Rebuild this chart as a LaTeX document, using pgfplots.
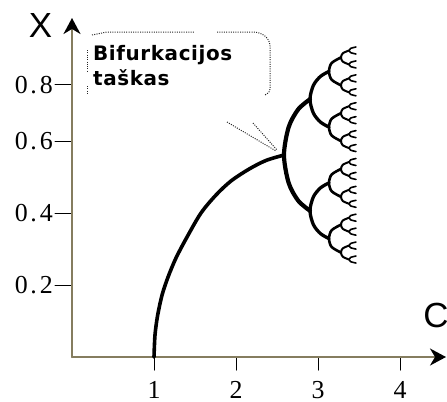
\documentclass[border=0pt]{standalone}
\usepackage{pgfplots}
\pgfplotsset{compat=1.18}
\usepackage{fontspec}
\setmainfont{Liberation Serif}
\newfontfamily\labelfont{Liberation Sans}
\newfontfamily\notefont[LetterSpace=3]{DejaVu Sans}
\usetikzlibrary{arrows.meta}
\definecolor{axisolive}{RGB}{133,125,95}
\tikzset{note/.style={draw=black!85, line width=1bp, dash pattern=on 1bp off 1.3bp}}
\newcommand{\dec}[2]{#1\kern2.5bp.\kern3bp#2}

\begin{document}
\begin{tikzpicture}
\begin{axis}[
  scale only axis,
  width=374bp, height=339bp,
  xmin=0, xmax=4.561, ymin=0, ymax=0.9417,
  axis lines=left,
  axis line style={draw=axisolive, line width=2bp,
    -{Stealth[black, length=16bp, width=17bp, inset=5bp]}},
  xtick={1,2,3,4},
  ytick={0.2,0.4,0.6,0.756},
  yticklabels={\dec{0}{2},\dec{0}{4},\dec{0}{6},\dec{0}{8}},
  tick align=outside,
  major tick length=17bp,
  xtick style={/pgfplots/major tick length=13bp},
  tick style={black, line width=1bp},
  /pgf/number format/assume math mode=true,
  xticklabel style={font=\fontsize{26}{26}\selectfont, inner sep=0pt, yshift=-7bp},
  yticklabel style={font=\fontsize{26}{26}\selectfont, inner sep=0pt, xshift=-2bp},
  xlabel={C}, ylabel={X},
  xlabel style={font=\labelfont\fontsize{35}{35}\selectfont,
    at={(axis description cs:0.973,0.121)}, anchor=center},
  ylabel style={font=\labelfont\fontsize{35}{35}\selectfont, rotate=-90,
    at={(axis description cs:-0.0842,0.979)}, anchor=center},
  clip=false,
  unbounded coords=jump,
  line cap=round, line join=round,
]
% stable branch of fixed points
\addplot[black, line width=3.6bp, smooth] coordinates {
  (1.000,0) (1.012,0.061) (1.043,0.114) (1.098,0.172) (1.171,0.222)
  (1.268,0.275) (1.402,0.333) (1.573,0.400) (1.756,0.450) (1.939,0.489)
  (2.159,0.522) (2.366,0.546) (2.585,0.561)};
% first period doubling
\addplot[black, line width=4.2bp, smooth] coordinates {
  (2.902,0.7160) (2.759,0.6881) (2.642,0.6385) (2.585,0.5611)
  (2.642,0.4837) (2.759,0.4341) (2.902,0.4063)};
% period 2 -> 4
\addplot[black, line width=3.3bp, smooth] coordinates {
  (3.134,0.7934) (3.030,0.7795) (2.944,0.7547) (2.902,0.7160)
  (2.944,0.6773) (3.030,0.6525) (3.134,0.6386)
  (nan,nan)
  (3.134,0.4837) (3.030,0.4698) (2.944,0.4450) (2.902,0.4063)
  (2.944,0.3676) (3.030,0.3428) (3.134,0.3289)};
% period 4 -> 8
\addplot[black, line width=2.6bp, smooth] coordinates {
  (3.280,0.8321) (3.166,0.8166) (3.134,0.7934) (3.166,0.7702) (3.280,0.7547)
  (nan,nan)
  (3.280,0.6773) (3.166,0.6618) (3.134,0.6386) (3.166,0.6154) (3.280,0.5999)
  (nan,nan)
  (3.280,0.5224) (3.166,0.5069) (3.134,0.4837) (3.166,0.4605) (3.280,0.4450)
  (nan,nan)
  (3.280,0.3676) (3.166,0.3521) (3.134,0.3289) (3.166,0.3057) (3.280,0.2902)};
% period 8 -> 16
\addplot[black, line width=2.0bp, smooth] coordinates {
  (3.378,0.8514) (3.302,0.8437) (3.280,0.8321) (3.302,0.8205) (3.378,0.8127)
  (nan,nan)
  (3.378,0.7740) (3.302,0.7663) (3.280,0.7547) (3.302,0.7431) (3.378,0.7353)
  (nan,nan)
  (3.378,0.6966) (3.302,0.6889) (3.280,0.6773) (3.302,0.6657) (3.378,0.6579)
  (nan,nan)
  (3.378,0.6191) (3.302,0.6114) (3.280,0.5998) (3.302,0.5882) (3.378,0.5804)
  (nan,nan)
  (3.378,0.5417) (3.302,0.5340) (3.280,0.5224) (3.302,0.5108) (3.378,0.5030)
  (nan,nan)
  (3.378,0.4643) (3.302,0.4566) (3.280,0.4450) (3.302,0.4334) (3.378,0.4256)
  (nan,nan)
  (3.378,0.3869) (3.302,0.3792) (3.280,0.3676) (3.302,0.3560) (3.378,0.3482)
  (nan,nan)
  (3.378,0.3095) (3.302,0.3018) (3.280,0.2902) (3.302,0.2786) (3.378,0.2708)};
% period 16 -> 32
\addplot[black, line width=1.6bp, smooth] coordinates {
  (3.463,0.8611) (3.397,0.8572) (3.378,0.8514) (3.397,0.8456) (3.463,0.8417)
  (nan,nan)
  (3.463,0.8224) (3.397,0.8185) (3.378,0.8127) (3.397,0.8069) (3.463,0.8030)
  (nan,nan)
  (3.463,0.7837) (3.397,0.7798) (3.378,0.7740) (3.397,0.7682) (3.463,0.7643)
  (nan,nan)
  (3.463,0.7450) (3.397,0.7411) (3.378,0.7353) (3.397,0.7295) (3.463,0.7256)
  (nan,nan)
  (3.463,0.7063) (3.397,0.7024) (3.378,0.6966) (3.397,0.6908) (3.463,0.6869)
  (nan,nan)
  (3.463,0.6676) (3.397,0.6637) (3.378,0.6579) (3.397,0.6521) (3.463,0.6482)
  (nan,nan)
  (3.463,0.6288) (3.397,0.6249) (3.378,0.6191) (3.397,0.6133) (3.463,0.6094)
  (nan,nan)
  (3.463,0.5901) (3.397,0.5862) (3.378,0.5804) (3.397,0.5746) (3.463,0.5707)
  (nan,nan)
  (3.463,0.5514) (3.397,0.5475) (3.378,0.5417) (3.397,0.5359) (3.463,0.5320)
  (nan,nan)
  (3.463,0.5127) (3.397,0.5088) (3.378,0.5030) (3.397,0.4972) (3.463,0.4933)
  (nan,nan)
  (3.463,0.4740) (3.397,0.4701) (3.378,0.4643) (3.397,0.4585) (3.463,0.4546)
  (nan,nan)
  (3.463,0.4353) (3.397,0.4314) (3.378,0.4256) (3.397,0.4198) (3.463,0.4159)
  (nan,nan)
  (3.463,0.3966) (3.397,0.3927) (3.378,0.3869) (3.397,0.3811) (3.463,0.3772)
  (nan,nan)
  (3.463,0.3579) (3.397,0.3540) (3.378,0.3482) (3.397,0.3424) (3.463,0.3385)
  (nan,nan)
  (3.463,0.3192) (3.397,0.3153) (3.378,0.3095) (3.397,0.3037) (3.463,0.2998)
  (nan,nan)
  (3.463,0.2805) (3.397,0.2766) (3.378,0.2708) (3.397,0.2650) (3.463,0.2611)};
\end{axis}
% callout, in a frame whose origin is the top-left corner of the page
\begin{scope}[x=1bp, y=-1bp, xshift=-72bp, yshift=357bp]
  \draw[note] (92,35) -- (102,33) -- (107,32) -- (195,32);
  \draw[note] (217,32) -- (253,32) .. controls (262,32) and (270,38) .. (270,46)
    -- (270,88) .. controls (270,92) and (268,94) .. (265,95);
  \draw[note] (87,50) -- (87,72);
  \draw[note] (87,86) -- (87,94);
  \draw[note] (227,122) -- (276,151);
  \draw[note] (253,123) -- (277,150);
  \node[anchor=base west, inner sep=0pt, font=\notefont\bfseries\fontsize{20}{20}\selectfont]
    at (93,60) {Bifurkacijos};
  \node[anchor=base west, inner sep=0pt, font=\notefont\bfseries\fontsize{20}{20}\selectfont]
    at (93,85) {taškas};
  \pgfresetboundingbox
  \path[use as bounding box] (0,0) rectangle (447,401);
\end{scope}
\end{tikzpicture}
\end{document}
